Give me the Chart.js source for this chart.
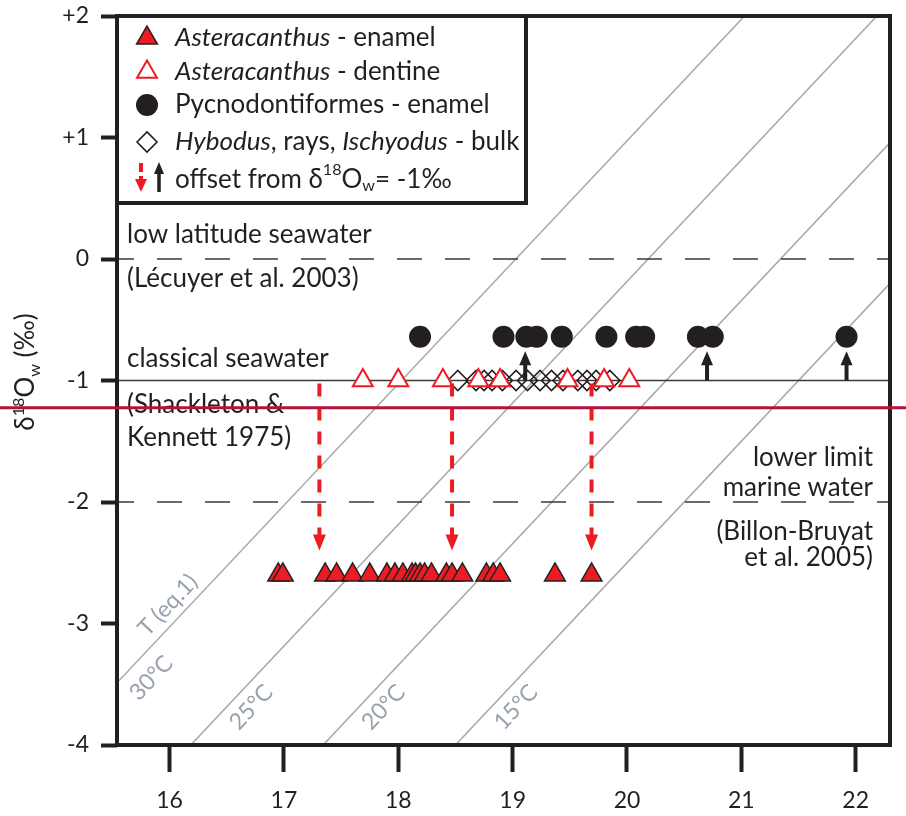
<!DOCTYPE html>
<html>
<head>
<meta charset="utf-8">
<script src="https://cdn.jsdelivr.net/npm/chart.js@4.4.1/dist/chart.umd.min.js"></script>
<style>
  html, body { margin: 0; padding: 0; background: #fff; }
  canvas { display: block; }
</style>
</head>
<body>
<canvas id="chart" width="906" height="816"></canvas>
<script>
// ---- axes ----
const xTicks = [16, 17, 18, 19, 20, 21, 22];
const yTicks = [2, 1, 0, -1, -2, -3, -4];
const yTickLabels = ['+2', '+1', '0', '-1', '-2', '-3', '-4'];
const xRange = [15.54, 22.3];
const yRange = [-4, 2];

// ---- samples: delta18O phosphate (x) and derived delta18O water (y) ----
const enamelX = [16.95, 16.99, 17.36, 17.46, 17.60, 17.75, 17.90, 17.97, 18.04, 18.12, 18.15,
                 18.19, 18.23, 18.29, 18.42, 18.47, 18.56, 18.77, 18.83, 18.89, 19.37, 19.69];
const enamelY = -2.6;
const dentineX = [17.69, 18.00, 18.39, 18.70, 18.89, 19.48, 19.80, 20.02];
const dentineY = -1;
const pycnoX = [18.19, 18.92, 19.12, 19.21, 19.43, 19.82, 20.08, 20.15, 20.62, 20.75, 21.92];
const pycnoY = -0.64;
const bulkX = [18.52, 18.68, 18.75, 18.82, 18.91, 19.03, 19.13, 19.24, 19.34, 19.44, 19.57,
               19.65, 19.73, 19.85];
const bulkY = -1;

// ---- offset arrows from the -1 permil reference ----
const offsetDownX = [17.31, 18.47, 19.69];
const offsetDownTip = -2.4;
const offsetUpX = [19.11, 20.70, 21.92];
const offsetUpTip = -0.76;

// ---- isotherms: T = A - B * (d18Op - d18Ow) ----
const isoTemps = [30, 25, 20, 15];
const isoA = 112.2;
const isoB = 4.32;
const isoLabelY = [-3.45, -3.69, -3.69, -3.69];

// ---- reference water levels ----
const lowLatitudeLevel = 0;
const classicalLevel = -1;
const lowerLimitLevel = -2;
const crossLineLevel = -1.225;

const INK = '#231f20';
const RED = '#ed1c24';
const GREY_LINE = '#a6a6a6';
const GREY_TEXT = '#98a2ae';
const FONT = 'Lato, "Open Sans", sans-serif';

const isoOffset = t => (isoA - t) / isoB;   // d18Op - d18Ow on an isotherm

const pts = (xs, y) => xs.map(x => ({ x, y }));

const datasets = [];

// markers (lower order = drawn on top)
datasets.push({
  label: 'Pycnodontiformes - enamel', data: pts(pycnoX, pycnoY),
  pointStyle: 'circle', pointRadius: 11, pointBackgroundColor: INK, pointBorderColor: INK,
  pointBorderWidth: 0, order: 1
});
datasets.push({
  label: 'Asteracanthus - dentine', data: pts(dentineX, dentineY),
  pointStyle: 'triangle', pointRadius: 11.5, pointBackgroundColor: '#ffffff', pointBorderColor: RED,
  pointBorderWidth: 2, order: 2
});
datasets.push({
  label: 'Hybodus, rays, Ischyodus - bulk', data: pts(bulkX, bulkY),
  pointStyle: 'rectRot', pointRadius: 10, pointBackgroundColor: 'rgba(0,0,0,0)', pointBorderColor: INK,
  pointBorderWidth: 1.6, order: 3
});
datasets.push({
  label: 'Asteracanthus - enamel', data: pts(enamelX, enamelY),
  pointStyle: 'triangle', pointRadius: 12, pointBackgroundColor: RED, pointBorderColor: INK,
  pointBorderWidth: 1.5, order: 4
});

// reference levels
const levelLine = (y, dashed) => ({
  type: 'line', data: [{ x: xRange[0], y }, { x: xRange[1], y }], showLine: true,
  borderColor: '#3a3a3a', borderWidth: 1.5,
  borderDash: dashed ? [25, 23] : [], borderDashOffset: dashed ? 8 : 0,
  pointRadius: 0, fill: false, order: 20
});
datasets.push(levelLine(lowLatitudeLevel, true));
datasets.push(levelLine(lowerLimitLevel, true));
datasets.push(levelLine(classicalLevel, false));

// isotherms
isoTemps.forEach(t => {
  const d = isoOffset(t);
  datasets.push({
    type: 'line', data: [{ x: yRange[0] + d, y: yRange[0] }, { x: yRange[1] + d, y: yRange[1] }],
    showLine: true, borderColor: GREY_LINE, borderWidth: 1.5, pointRadius: 0, fill: false, order: 30
  });
});

// ---- helpers for drawn text ----
function richWidth(ctx, segs, size) {
  let w = 0;
  segs.forEach(s => {
    const fs = (s.sup || s.sub) ? size * 0.62 : size;
    ctx.font = `${s.italic ? 'italic ' : ''}${fs}px ${FONT}`;
    w += ctx.measureText(s.t).width;
  });
  return w;
}
function drawRich(ctx, segs, x, y, size) {
  let cx = x;
  segs.forEach(s => {
    const fs = (s.sup || s.sub) ? size * 0.62 : size;
    ctx.font = `${s.italic ? 'italic ' : ''}${fs}px ${FONT}`;
    const dy = s.sup ? -size * 0.38 : (s.sub ? size * 0.22 : 0);
    ctx.fillText(s.t, cx, y + dy);
    cx += ctx.measureText(s.t).width;
  });
}

function upArrow(ctx, x, yBase, yTip, color, shaft, headW, headL) {
  ctx.save();
  ctx.strokeStyle = color; ctx.fillStyle = color; ctx.lineWidth = shaft;
  ctx.beginPath(); ctx.moveTo(x, yBase); ctx.lineTo(x, yTip + headL - 1); ctx.stroke();
  ctx.beginPath();
  ctx.moveTo(x, yTip); ctx.lineTo(x - headW / 2, yTip + headL); ctx.lineTo(x + headW / 2, yTip + headL);
  ctx.closePath(); ctx.fill();
  ctx.restore();
}
function downDashedArrow(ctx, x, yTop, yTip, color, shaft, dash, headW, headL) {
  ctx.save();
  ctx.strokeStyle = color; ctx.fillStyle = color; ctx.lineWidth = shaft;
  ctx.setLineDash(dash);
  ctx.beginPath(); ctx.moveTo(x, yTop); ctx.lineTo(x, yTip - headL + 1); ctx.stroke();
  ctx.setLineDash([]);
  ctx.beginPath();
  ctx.moveTo(x, yTip); ctx.lineTo(x - headW / 2, yTip - headL); ctx.lineTo(x + headW / 2, yTip - headL);
  ctx.closePath(); ctx.fill();
  ctx.restore();
}

const TEXT_SIZE = 26;

const decor = {
  id: 'decor',
  beforeDatasetsDraw(chart) {
    const { ctx, scales: { x: xs, y: ys } } = chart;
    const ux = xs.getPixelForValue(1) - xs.getPixelForValue(0);
    const uy = ys.getPixelForValue(0) - ys.getPixelForValue(1);
    const ang = -Math.atan2(uy, ux);
    ctx.save();
    ctx.fillStyle = GREY_TEXT;
    ctx.textAlign = 'center';
    ctx.textBaseline = 'middle';
    ctx.font = `23px ${FONT}`;
    isoTemps.forEach((t, i) => {
      const y = isoLabelY[i];
      const px = xs.getPixelForValue(isoOffset(t) + y) + (i === 0 ? 30 : 25);
      const py = ys.getPixelForValue(y);
      ctx.save(); ctx.translate(px, py); ctx.rotate(ang);
      ctx.fillText(`${t}°C`, 0, 0);
      ctx.restore();
    });
    // equation tag along the warmest isotherm
    {
      const y = -2.85;
      const px = xs.getPixelForValue(isoOffset(isoTemps[0]) + y) - 22;
      const py = ys.getPixelForValue(y);
      ctx.save(); ctx.translate(px, py); ctx.rotate(ang);
      ctx.fillText('T (eq.1)', 0, 0);
      ctx.restore();
    }
    ctx.restore();
  },
  afterDatasetsDraw(chart) {
    const { ctx, chartArea: ca, scales: { x: xs, y: ys } } = chart;
    ctx.save();

    // offset arrows
    const yMinus1 = ys.getPixelForValue(classicalLevel);
    offsetUpX.forEach(v => {
      upArrow(ctx, xs.getPixelForValue(v), yMinus1, ys.getPixelForValue(offsetUpTip), INK, 4, 12, 14);
    });
    offsetDownX.forEach(v => {
      downDashedArrow(ctx, xs.getPixelForValue(v), yMinus1 + 3, ys.getPixelForValue(offsetDownTip),
        RED, 4, [13, 11], 13, 16);
    });

    // annotations
    ctx.fillStyle = INK;
    ctx.textBaseline = 'alphabetic';
    ctx.font = `${TEXT_SIZE}px ${FONT}`;
    const y0 = ys.getPixelForValue(lowLatitudeLevel);
    const y1 = ys.getPixelForValue(classicalLevel);
    const y2 = ys.getPixelForValue(lowerLimitLevel);
    const lx = ca.left + 10;
    ctx.textAlign = 'left';
    ctx.fillText('low latitude seawater', lx, y0 - 16);
    ctx.fillText('(Lécuyer et al. 2003)', lx, y0 + 28);
    ctx.fillText('classical seawater', lx, y1 - 14);
    ctx.fillText('(Shackleton &', lx, y1 + 32);
    ctx.fillText('Kennett 1975)', lx, y1 + 65);
    const rx = ca.right - 17;
    ctx.textAlign = 'right';
    ctx.fillText('lower limit', rx, y2 - 36);
    ctx.fillText('marine water', rx, y2 - 6);
    ctx.fillText('(Billon-Bruyat', rx, y2 + 38);
    ctx.fillText('et al. 2005)', rx, y2 + 64);

    // legend box
    const lgL = ca.left, lgT = ca.top, lgW = 409, lgH = 187;
    ctx.fillStyle = '#ffffff';
    ctx.fillRect(lgL, lgT, lgW, lgH);
    ctx.strokeStyle = INK; ctx.lineWidth = 4;
    ctx.strokeRect(lgL, lgT, lgW, lgH);

    const symX = lgL + 30, txtX = lgL + 58;
    const rows = [lgT + 22, lgT + 56, lgT + 89, lgT + 126, lgT + 164];
    const byLabel = l => chart.data.datasets.find(d => d.label === l);
    const sym = (ds, y) => {
      ctx.save();
      ctx.fillStyle = ds.pointBackgroundColor; ctx.strokeStyle = ds.pointBorderColor;
      ctx.lineWidth = ds.pointBorderWidth;
      Chart.helpers.drawPoint(ctx, { pointStyle: ds.pointStyle, radius: ds.pointRadius,
        borderWidth: ds.pointBorderWidth, rotation: 0 }, symX, y);
      ctx.restore();
    };
    sym(byLabel('Asteracanthus - enamel'), rows[0]);
    sym(byLabel('Asteracanthus - dentine'), rows[1]);
    sym(byLabel('Pycnodontiformes - enamel'), rows[2]);
    sym(byLabel('Hybodus, rays, Ischyodus - bulk'), rows[3]);
    downDashedArrow(ctx, symX - 6, rows[4] - 17, rows[4] + 12, RED, 4, [9, 4], 12, 13);
    upArrow(ctx, symX + 12, rows[4] + 12, rows[4] - 18, INK, 3.5, 10, 12);

    ctx.fillStyle = INK;
    ctx.textAlign = 'left';
    ctx.textBaseline = 'middle';
    const ls = TEXT_SIZE;
    drawRich(ctx, [{ t: 'Asteracanthus', italic: true }, { t: ' - enamel' }], txtX, rows[0], ls);
    drawRich(ctx, [{ t: 'Asteracanthus', italic: true }, { t: ' - dentine' }], txtX, rows[1], ls);
    drawRich(ctx, [{ t: 'Pycnodontiformes - enamel' }], txtX, rows[2], ls);
    drawRich(ctx, [{ t: 'Hybodus', italic: true }, { t: ', rays, ' }, { t: 'Ischyodus', italic: true },
      { t: ' - bulk' }], txtX, rows[3], ls);
    drawRich(ctx, [{ t: 'offset from δ' }, { t: '18', sup: true }, { t: 'O' }, { t: 'w', sub: true },
      { t: '= -1‰' }], txtX, rows[4], ls);

    // plot frame
    ctx.strokeStyle = INK; ctx.lineWidth = 4;
    ctx.strokeRect(ca.left, ca.top, ca.right - ca.left, ca.bottom - ca.top);

    // y-axis title
    const title = [{ t: 'δ' }, { t: '18', sup: true }, { t: 'O' }, { t: 'w', sub: true }, { t: ' (‰)' }];
    const ts = 26;
    const tw = richWidth(ctx, title, ts);
    ctx.save();
    ctx.translate(34, 372);
    ctx.rotate(-Math.PI / 2);
    ctx.textBaseline = 'alphabetic';
    ctx.textAlign = 'left';
    drawRich(ctx, title, -tw / 2, 0, ts);
    ctx.restore();

    // horizontal cross line
    const yc = ys.getPixelForValue(crossLineLevel);
    ctx.strokeStyle = '#b2153c'; ctx.lineWidth = 3;
    ctx.beginPath(); ctx.moveTo(0, yc); ctx.lineTo(chart.width, yc); ctx.stroke();

    ctx.restore();
  }
};

new Chart(document.getElementById('chart'), {
  type: 'scatter',
  data: { datasets },
  options: {
    responsive: false,
    animation: false,
    events: [],
    layout: { padding: { top: 16, right: 16, left: 0, bottom: 0 } },
    plugins: { legend: { display: false }, tooltip: { enabled: false } },
    scales: {
      x: {
        type: 'linear', min: xRange[0], max: xRange[1],
        afterBuildTicks: s => { s.ticks = xTicks.map(v => ({ value: v })); },
        afterFit: s => { s.height = 71; s.paddingLeft = 0; s.paddingRight = 0; },
        border: { display: false },
        grid: { drawOnChartArea: false, drawTicks: true, tickLength: 27, tickWidth: 4, tickColor: INK, color: INK },
        ticks: { font: { family: FONT, size: 23 }, color: INK, padding: 15, maxRotation: 0,
                 callback: v => String(v) }
      },
      y: {
        type: 'linear', min: yRange[0], max: yRange[1],
        afterBuildTicks: s => { s.ticks = yTicks.map(v => ({ value: v })); },
        afterFit: s => { s.width = 117; s.paddingTop = 0; s.paddingBottom = 0; },
        border: { display: false },
        grid: { drawOnChartArea: false, drawTicks: true, tickLength: 16, tickWidth: 4, tickColor: INK, color: INK },
        ticks: { font: { family: FONT, size: 23 }, color: INK, padding: 12,
                 callback: v => yTickLabels[yTicks.indexOf(v)] }
      }
    }
  },
  plugins: [decor]
});
</script>
</body>
</html>
